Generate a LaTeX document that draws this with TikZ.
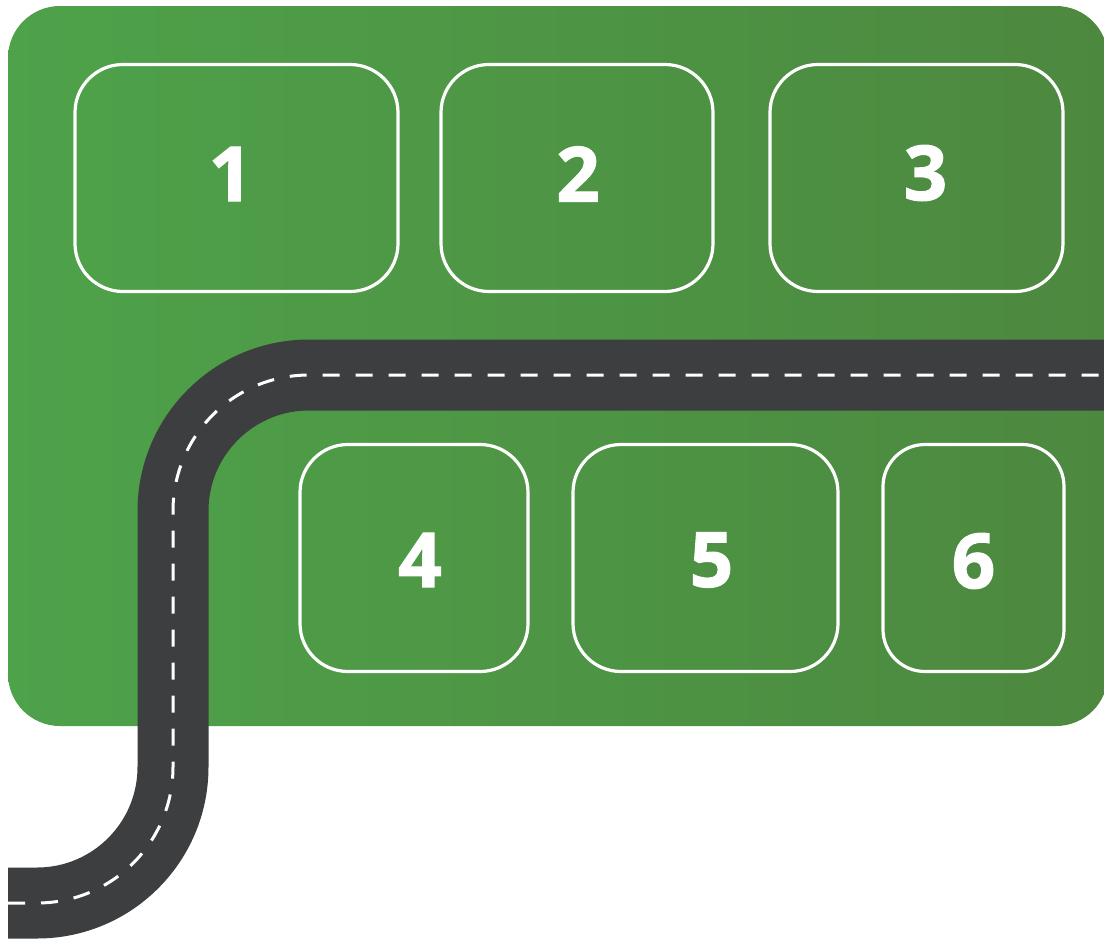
\documentclass[tikz,border=0pt]{standalone}
\usepackage{fontspec}
\setmainfont{Open Sans}[BoldFeatures={FakeBold=1.6}]
\usepackage{tikz}
\usetikzlibrary{positioning}
\definecolor{fieldleft}{RGB}{78,162,74}
\definecolor{fieldright}{RGB}{77,136,63}
\definecolor{asphalt}{RGB}{61,62,63}

\begin{document}
\begin{tikzpicture}[
    x=0.5pt, y=-0.5pt,
    lot/.style={
        rectangle, draw=white,
        line width=1.6pt,
        rounded corners=24pt,
        minimum height=113.5pt,
        inner sep=0pt
    },
    lotnum/.style={
        text=white, inner sep=0pt,
        font=\bfseries\fontsize{38}{38}\selectfont
    },
    road/.style={
        draw=asphalt, line width=35.5pt,
        rounded corners=68pt
    },
    lane/.style={
        draw=white, line width=1.5pt,
        dash pattern=on 8.5pt off 8pt,
        rounded corners=68pt
    }
]
\useasboundingbox (0,0) rectangle (1104,938);
\fill[white] (0,0) rectangle (1104,938);
\clip (0,0) rectangle (1104,938);
% field
\shade[left color=fieldleft, right color=fieldright, rounded corners=26pt]
    (8,6) rectangle (1108,726);
% road
\coordinate (start) at (8,903);
\coordinate (bend1) at (173,903);
\coordinate (bend2) at (173,375);
\coordinate (end) at (1120,375);
\draw[road] (start) -- (bend1) -- (bend2) -- (end);
\draw[lane] (start) -- (bend1) -- (bend2) -- (end);
% lots
\node[lot, minimum width=161.5pt] (lot1) at (236.5,178) {};
\node[lot, minimum width=136pt]   (lot2) at (577,178)   {};
\node[lot, minimum width=146.5pt] (lot3) at (916.5,178) {};
\node[lot, minimum width=114pt]   (lot4) at (414,558)   {};
\node[lot, minimum width=132.5pt] (lot5) at (705.5,558) {};
\node[lot, minimum width=90.5pt, rounded corners=21pt] (lot6) at (973.5,558) {};
% numbers
\node[lotnum] (num1) at ([shift={(-6,-4)}]lot1.center) {1};
\node[lotnum] (num2) at ([shift={(1,-4)}]lot2.center)  {2};
\node[lotnum] (num3) at ([shift={(9,-5)}]lot3.center)  {3};
\node[lotnum] (num4) at ([shift={(6,2)}]lot4.center)   {4};
\node[lotnum] (num5) at ([shift={(6,2)}]lot5.center)   {5};
\node[lotnum] (num6) at ([shift={(0,3)}]lot6.center)   {6};
\end{tikzpicture}
\end{document}
